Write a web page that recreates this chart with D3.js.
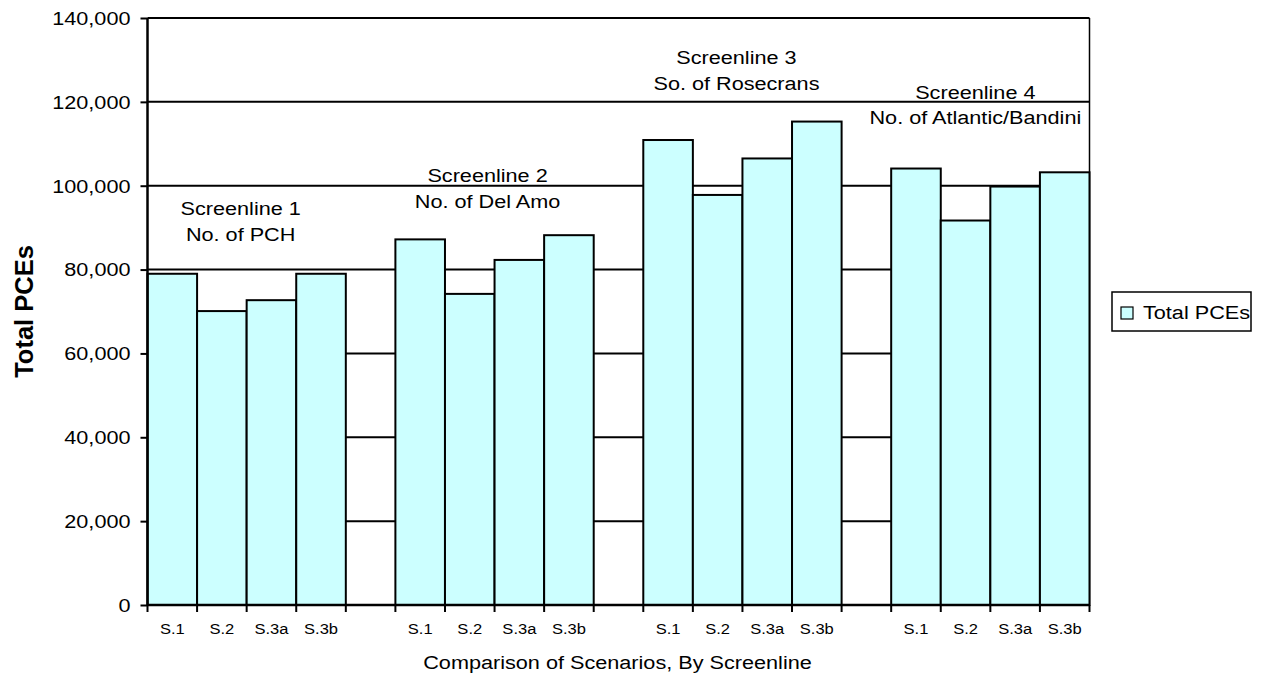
<!DOCTYPE html>
<html>
<head>
<meta charset="utf-8">
<script src="https://cdn.jsdelivr.net/npm/d3@7"></script>
<style>
  html, body { margin: 0; padding: 0; background: #fff; }
  svg { display: block; font-family: Arial, "Liberation Sans", Helvetica, sans-serif; }
</style>
</head>
<body>
<svg id="chart" width="1263" height="680"></svg>
<script>
// Scenario names within each screenline
const scenarios = ["S.1", "S.2", "S.3a", "S.3b"];

// Screenline headings (two lines each)
const screenlineNames = ["Screenline 1", "Screenline 2", "Screenline 3", "Screenline 4"];
const screenlineSubtitles = ["No. of PCH", "No. of Del Amo", "So. of Rosecrans", "No. of Atlantic/Bandini"];

// Total PCEs per scenario, one array per screenline
const screenline1 = [79000, 70100, 72700, 79000];
const screenline2 = [87200, 74200, 82300, 88200];
const screenline3 = [110900, 97800, 106500, 115300];
const screenline4 = [104100, 91700, 99800, 103200];

// Value axis ticks
const yTicks = [0, 20000, 40000, 60000, 80000, 100000, 120000, 140000];

const seriesName = "Total PCEs";
const xTitle = "Comparison of Scenarios, By Screenline";
const yTitle = "Total PCEs";

// ---- layout ----
const plot = { left: 147.5, right: 1089.5, top: 18, bottom: 605 };
const fontSize = 19;
const stretch = 1.14;           // horizontal widening of the text glyphs
const barFill = "#ccffff";
// heading placement per screenline: x shift from group centre, baseline of both lines
const headingLayout = [
  { dx: -6,  y1: 215, y2: 241 },
  { dx: -7,  y1: 182, y2: 208 },
  { dx: -6,  y1: 64,  y2: 90 },
  { dx: -15, y1: 99,  y2: 124 }
];

const groups = [screenline1, screenline2, screenline3, screenline4];

// Build the category slots: 4 bars per screenline, one empty slot between screenlines
const slots = [];
groups.forEach((vals, gi) => {
  scenarios.forEach((s, si) => {
    slots.push({ key: `g${gi}-${s}`, label: s, value: vals[si], group: gi });
  });
  if (gi < groups.length - 1) slots.push({ key: `gap${gi}`, label: "", value: null, group: gi });
});

const svg = d3.select("#chart");

const x = d3.scaleBand()
  .domain(slots.map(d => d.key))
  .range([plot.left, plot.right])
  .paddingInner(0).paddingOuter(0);

const y = d3.scaleLinear()
  .domain([0, 140000])
  .range([plot.bottom, plot.top]);

const fmt = d3.format(",");

// helper: widened text at (px, py)
function addText(parent, px, py, str, anchor, opts = {}) {
  return parent.append("text")
    .attr("transform", `translate(${px},${py}) scale(${opts.sx ?? stretch},1)`)
    .attr("text-anchor", anchor)
    .attr("font-size", opts.size ?? fontSize)
    .attr("font-weight", opts.weight ?? "normal")
    .attr("fill", "#000")
    .text(str);
}

// gridlines
svg.append("g").selectAll("line")
  .data(yTicks.filter(t => t > 0))
  .join("line")
  .attr("x1", plot.left).attr("x2", plot.right)
  .attr("y1", d => y(d)).attr("y2", d => y(d))
  .attr("stroke", "#000").attr("stroke-width", 2);

// right border of the plot area
svg.append("line")
  .attr("x1", plot.right).attr("x2", plot.right)
  .attr("y1", plot.top).attr("y2", plot.bottom)
  .attr("stroke", "#000").attr("stroke-width", 1.5);

// bars
svg.append("g").selectAll("rect")
  .data(slots.filter(d => d.value != null))
  .join("rect")
  .attr("x", d => x(d.key))
  .attr("y", d => y(d.value))
  .attr("width", x.bandwidth())
  .attr("height", d => y(0) - y(d.value))
  .attr("fill", barFill)
  .attr("stroke", "#000")
  .attr("stroke-width", 2);

// y axis
const yAxis = svg.append("g")
  .attr("transform", `translate(${plot.left},0)`)
  .call(d3.axisLeft(y).tickValues(yTicks).tickSize(7).tickFormat(""));
yAxis.select(".domain").attr("stroke", "#000").attr("stroke-width", 2.5)
  .attr("d", `M0,${plot.top}V${plot.bottom}`);
yAxis.selectAll(".tick line").attr("stroke", "#000").attr("stroke-width", 2);

const yLabels = svg.append("g");
yTicks.forEach(t => addText(yLabels, plot.left - 17, y(t) + 6.8, fmt(t), "end"));

// x axis: ticks on slot boundaries, labels centred in slots
const boundaries = slots.map(d => x(d.key)).concat([plot.right]);
const xAxis = svg.append("g");
xAxis.append("line")
  .attr("x1", plot.left).attr("x2", plot.right)
  .attr("y1", plot.bottom).attr("y2", plot.bottom)
  .attr("stroke", "#000").attr("stroke-width", 2.5);
xAxis.selectAll("line.tick")
  .data(boundaries)
  .join("line")
  .attr("class", "tick")
  .attr("x1", d => d).attr("x2", d => d)
  .attr("y1", plot.bottom).attr("y2", plot.bottom + 7)
  .attr("stroke", "#000").attr("stroke-width", 2);
slots.filter(d => d.label).forEach(d => {
  addText(xAxis, x(d.key) + x.bandwidth() / 2, 634, d.label, "middle", { size: 14.5 });
});

// axis titles
addText(svg, (plot.left + plot.right) / 2 - 1, 669, xTitle, "middle");
svg.append("text")
  .attr("transform", `translate(33,${(plot.top + plot.bottom) / 2}) rotate(-90)`)
  .attr("text-anchor", "middle")
  .attr("font-size", 25.5)
  .attr("font-weight", "bold")
  .text(yTitle);

// screenline headings
groups.forEach((vals, gi) => {
  const first = x(`g${gi}-${scenarios[0]}`);
  const last = x(`g${gi}-${scenarios[scenarios.length - 1]}`) + x.bandwidth();
  const cx = (first + last) / 2 + headingLayout[gi].dx;
  addText(svg, cx, headingLayout[gi].y1, screenlineNames[gi], "middle");
  addText(svg, cx, headingLayout[gi].y2, screenlineSubtitles[gi], "middle");
});

// legend
const legend = svg.append("g");
legend.append("rect")
  .attr("x", 1112).attr("y", 292).attr("width", 139).attr("height", 39)
  .attr("fill", "#fff").attr("stroke", "#000").attr("stroke-width", 1.5);
legend.append("rect")
  .attr("x", 1121).attr("y", 307).attr("width", 12).attr("height", 12)
  .attr("fill", barFill).attr("stroke", "#000").attr("stroke-width", 1.2);
addText(legend, 1143, 319, seriesName, "start");
</script>
</body>
</html>
